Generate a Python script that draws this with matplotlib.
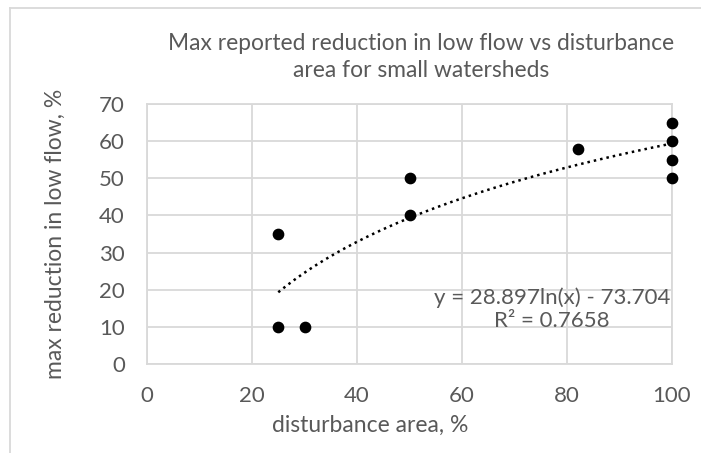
import numpy as np
import matplotlib
matplotlib.use('Agg')
import matplotlib.pyplot as plt
from matplotlib.lines import Line2D

# data
disturbance = [25, 25, 30, 50, 50, 82, 100, 100, 100, 100]
reduction = [35, 10, 10, 50, 40, 58, 65, 60, 55, 50]
x_ticks = [0, 20, 40, 60, 80, 100]
y_ticks = [0, 10, 20, 30, 40, 50, 60, 70]
title = "Max reported reduction in low flow vs disturbance\narea for small watersheds"
eq_text = "y = 28.897ln(x) - 73.704\nR² = 0.7658"

grey_text = '#595959'
grid_col = '#d9d9d9'

plt.rcParams['font.family'] = ['Lato', 'DejaVu Sans']

fig = plt.figure(figsize=(7.01, 4.53), dpi=100)
ax = fig.add_axes([147/701, 89/453, 525/701, 260/453])

# log trendline fitted from the points
a, b = np.polyfit(np.log(disturbance), reduction, 1)
xs = np.linspace(min(disturbance), max(disturbance), 200)
ax.plot(xs, a*np.log(xs) + b, color='black', linestyle=(0, (1, 1.6)), linewidth=1.8, zorder=3)

ax.scatter(disturbance, reduction, s=55, color='black', zorder=4, clip_on=False)

ax.set_xlim(0, 100)
ax.set_ylim(0, 70)
ax.set_xticks(x_ticks)
ax.set_yticks(y_ticks)
ax.grid(True, color=grid_col, linewidth=1.3)
ax.set_axisbelow(True)
for s in ax.spines.values():
    s.set_color(grid_col)
    s.set_linewidth(1.3)
ax.tick_params(length=0, labelsize=16, colors=grey_text)
ax.tick_params(axis='x', pad=16)
ax.tick_params(axis='y', pad=16)

ax.set_xlabel("disturbance area, %", fontsize=16.5, color=grey_text, va='center')
ax.xaxis.set_label_coords(0.425, -0.235)
ax.set_ylabel("max reduction in low flow, %", fontsize=16.5, color=grey_text, va='center')
ax.yaxis.set_label_coords(-0.175, 0.5)

ax.text(77.1, 14.8, eq_text, ha='center', va='center', fontsize=16,
        color=grey_text, linespacing=1.2, zorder=5)

fig.text(421.5/701, 1 - 57/453, title, ha='center', va='center', fontsize=16.4,
         color=grey_text, linespacing=1.3)

# chart frame (only top and left edges visible)
fig.add_artist(Line2D([10/701, 10/701], [0, 1 - 8/453], transform=fig.transFigure,
                      color=grid_col, linewidth=1.3))
fig.add_artist(Line2D([10/701, 1], [1 - 8/453, 1 - 8/453], transform=fig.transFigure,
                      color=grid_col, linewidth=1.3))

fig.savefig('out.png', dpi=100, facecolor='white')
